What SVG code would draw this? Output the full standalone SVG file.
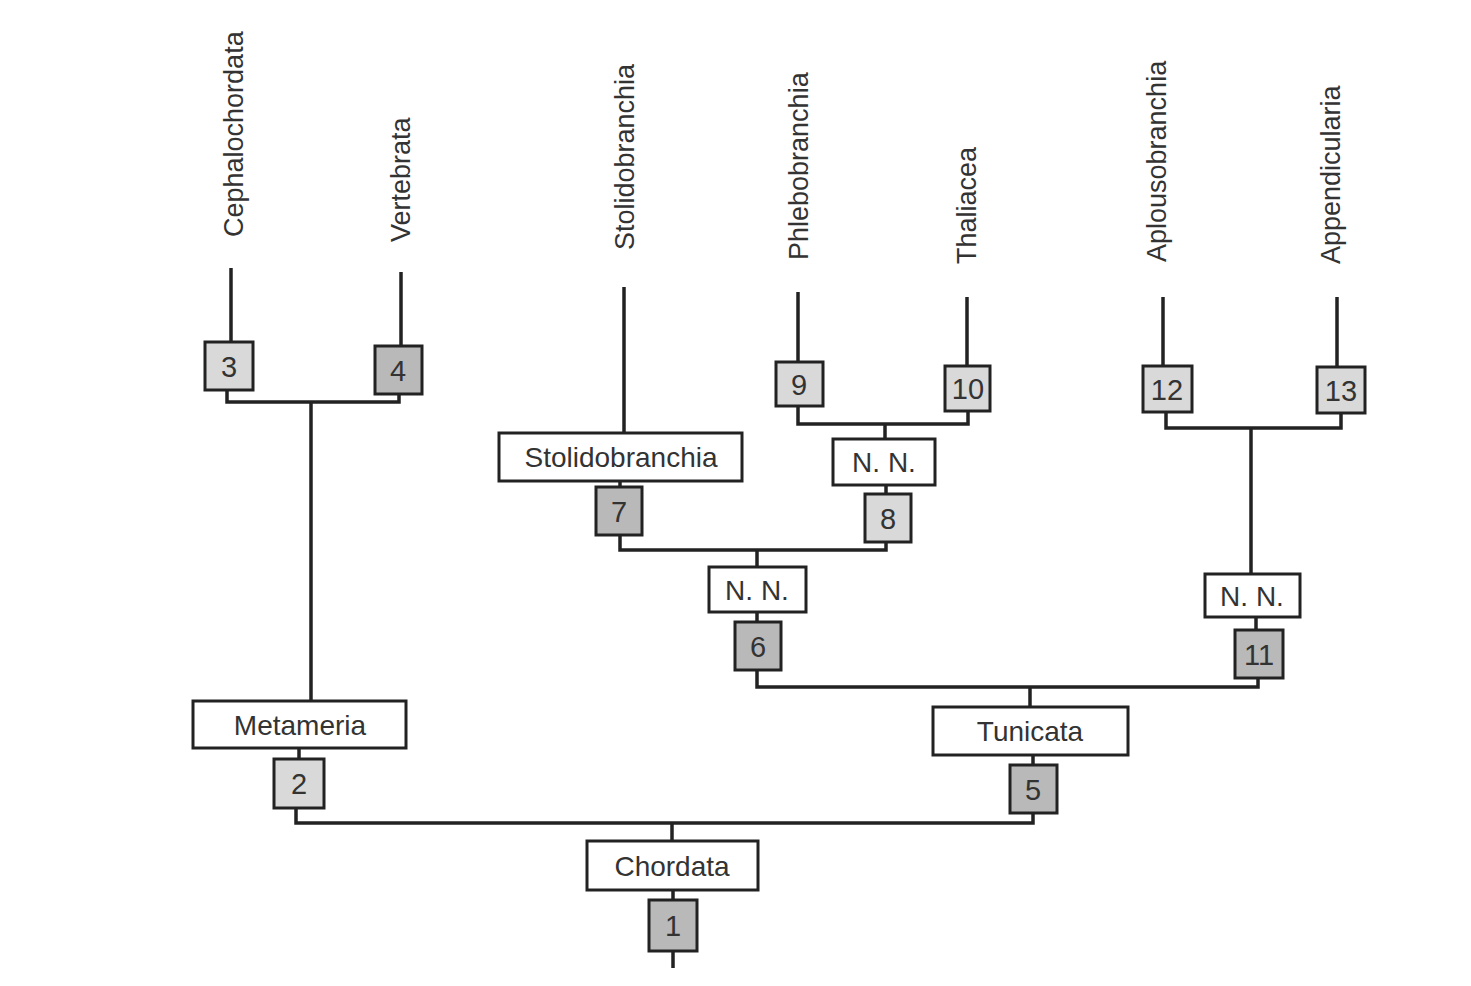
<svg xmlns="http://www.w3.org/2000/svg" width="1471" height="986" viewBox="0 0 1471 986">
<style>
.bg{fill:#ffffff}
.ln{fill:none;stroke:#222;stroke-width:3.5;stroke-linejoin:miter}
.lbl{fill:#ffffff;stroke:#222;stroke-width:3}
.cl{fill:#d9d9d9;stroke:#222;stroke-width:3}
.cd{fill:#b9b9b9;stroke:#222;stroke-width:3}
.t{font-family:"Liberation Sans",Arial,sans-serif;font-size:28px;fill:#333;text-anchor:middle}
.n{font-family:"Liberation Sans",Arial,sans-serif;font-size:29px;fill:#333;text-anchor:middle}
.v{font-family:"Liberation Sans",Arial,sans-serif;font-size:27px;fill:#333;text-anchor:start}
</style>
<rect class="bg" x="0" y="0" width="1471" height="986"/>
<g id="connectors">
<path class="ln" d="M231 268 V342"/>
<path class="ln" d="M401 272 V346"/>
<path class="ln" d="M227 390 V402 H399 V394"/>
<path class="ln" d="M311 402 V701"/>
<path class="ln" d="M299 748 V758"/>
<path class="ln" d="M296 808 V823 H1033 V813"/>
<path class="ln" d="M1033 755 V765"/>
<path class="ln" d="M672 823 V841"/>
<path class="ln" d="M673 890 V899"/>
<path class="ln" d="M673 951 V968"/>
<path class="ln" d="M1030 688 V707"/>
<path class="ln" d="M757 670 V687 H1258 V678"/>
<path class="ln" d="M757 612 V622"/>
<path class="ln" d="M757 550 V567"/>
<path class="ln" d="M624 287 V433"/>
<path class="ln" d="M620 481 V487"/>
<path class="ln" d="M620 535 V550 H886 V542"/>
<path class="ln" d="M886 485 V494"/>
<path class="ln" d="M885 424 V439"/>
<path class="ln" d="M798 292 V362"/>
<path class="ln" d="M967 297 V366"/>
<path class="ln" d="M798 406 V424 H968 V411"/>
<path class="ln" d="M1163 297 V366"/>
<path class="ln" d="M1337 297 V367"/>
<path class="ln" d="M1166 412 V428 H1341 V413"/>
<path class="ln" d="M1251 428 V574"/>
<path class="ln" d="M1256 617 V630"/>
</g>
<g id="leaf-cephalochordata"><text class="v" transform="translate(243,237) rotate(-90)">Cephalochordata</text></g>
<g id="leaf-vertebrata"><text class="v" transform="translate(410,242) rotate(-90)">Vertebrata</text></g>
<g id="leaf-stolidobranchia"><text class="v" transform="translate(634,250) rotate(-90)">Stolidobranchia</text></g>
<g id="leaf-phlebobranchia"><text class="v" transform="translate(808,260) rotate(-90)">Phlebobranchia</text></g>
<g id="leaf-thaliacea"><text class="v" transform="translate(976,264) rotate(-90)">Thaliacea</text></g>
<g id="leaf-aplousobranchia"><text class="v" transform="translate(1166,262) rotate(-90)">Aplousobranchia</text></g>
<g id="leaf-appendicularia"><text class="v" transform="translate(1340,264) rotate(-90)">Appendicularia</text></g>
<g id="box3"><rect class="cl" x="205" y="342" width="48" height="48"/><text class="n" x="229" y="377">3</text></g>
<g id="box4"><rect class="cd" x="375" y="346" width="47" height="48"/><text class="n" x="398" y="381">4</text></g>
<g id="metameria"><rect class="lbl" x="193" y="701" width="213" height="47"/><text class="t" x="300" y="735">Metameria</text></g>
<g id="box2"><rect class="cl" x="274" y="759" width="50" height="49"/><text class="n" x="299" y="794">2</text></g>
<g id="chordata"><rect class="lbl" x="587" y="841" width="171" height="49"/><text class="t" x="672" y="876">Chordata</text></g>
<g id="box1"><rect class="cd" x="649" y="900" width="48" height="51"/><text class="n" x="673" y="936">1</text></g>
<g id="tunicata"><rect class="lbl" x="933" y="707" width="195" height="48"/><text class="t" x="1030" y="741">Tunicata</text></g>
<g id="box5"><rect class="cd" x="1010" y="765" width="47" height="48"/><text class="n" x="1033" y="800">5</text></g>
<g id="nn-left"><rect class="lbl" x="709" y="567" width="97" height="45"/><text class="t" x="757" y="600">N. N.</text></g>
<g id="box6"><rect class="cd" x="735" y="622" width="46" height="48"/><text class="n" x="758" y="657">6</text></g>
<g id="stolidobranchia"><rect class="lbl" x="499" y="433" width="243" height="48"/><text class="t" x="621" y="467">Stolidobranchia</text></g>
<g id="box7"><rect class="cd" x="596" y="487" width="46" height="48"/><text class="n" x="619" y="522">7</text></g>
<g id="nn-mid"><rect class="lbl" x="833" y="439" width="102" height="46"/><text class="t" x="884" y="472">N. N.</text></g>
<g id="box8"><rect class="cl" x="865" y="494" width="46" height="48"/><text class="n" x="888" y="529">8</text></g>
<g id="box9"><rect class="cl" x="776" y="362" width="47" height="44"/><text class="n" x="799" y="395">9</text></g>
<g id="box10"><rect class="cl" x="945" y="366" width="45" height="45"/><text class="n" x="968" y="399">10</text></g>
<g id="nn-right"><rect class="lbl" x="1205" y="574" width="95" height="43"/><text class="t" x="1252" y="606">N. N.</text></g>
<g id="box11"><rect class="cd" x="1235" y="630" width="48" height="48"/><text class="n" x="1259" y="665">11</text></g>
<g id="box12"><rect class="cl" x="1143" y="366" width="49" height="46"/><text class="n" x="1167" y="400">12</text></g>
<g id="box13"><rect class="cl" x="1317" y="367" width="48" height="46"/><text class="n" x="1341" y="401">13</text></g>
</svg>
